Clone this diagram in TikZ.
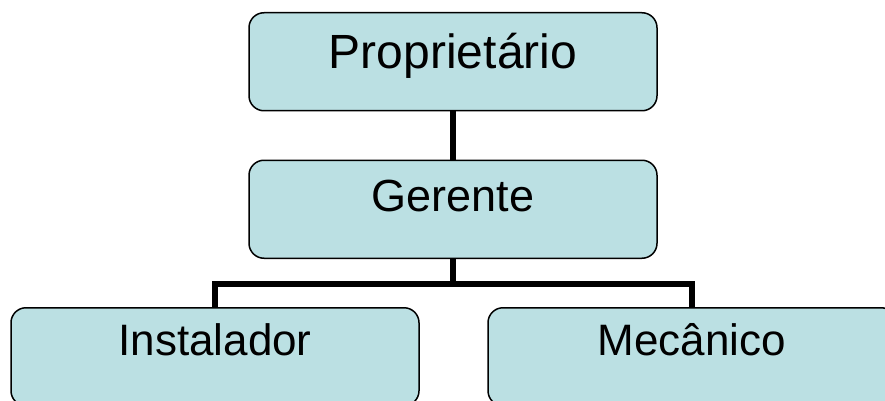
\documentclass[tikz,border=0pt]{standalone}
\usepackage{fontspec}
\setmainfont{Liberation Sans}
\usetikzlibrary{positioning}
\definecolor{postblue}{RGB}{187,224,227}
\tikzset{%
	post/.style={draw, rectangle, rounded corners=15pt, fill=postblue, line width=1.5pt,%
		minimum width=408pt, inner xsep=0pt, inner ysep=0pt, anchor=north},
	link/.style={line width=6pt}
}

\begin{document}
\begin{tikzpicture}[x=1pt, y=-1pt]
	\useasboundingbox (0,0) rectangle (885,401);

	\node[post, font=\fontsize{48}{58}\selectfont, text height=56pt, text depth=42pt] (prop) at (453,12) {Proprietário};
	\node[post, font=\fontsize{45}{54}\selectfont, text height=51pt, text depth=47pt, below=48pt of prop] (ger) {Gerente};
	\node[post, font=\fontsize{44}{53}\selectfont, text height=48pt, text depth=50pt] (inst) at (215,307) {Instalador};
	\node[post, font=\fontsize{44}{53}\selectfont, text height=48pt, text depth=50pt] (mec) at (692,307) {Mecânico};

	\draw[link] (prop) -- (ger);
	\draw[link] (ger.south) -- ++(0,25) coordinate (fork);
	\draw[link] (inst.north) |- (fork) -| (mec.north);
\end{tikzpicture}
\end{document}
